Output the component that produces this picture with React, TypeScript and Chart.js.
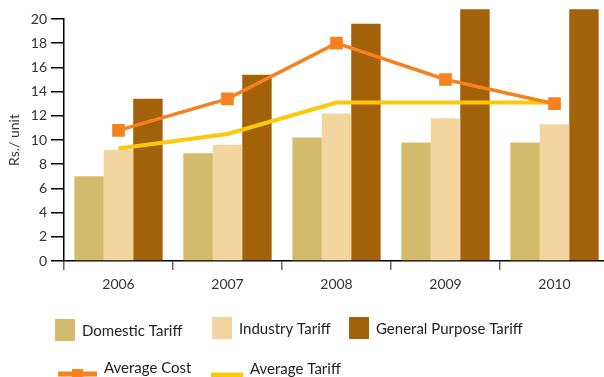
import React, { useEffect, useRef } from "react";
import { Chart, registerables } from "chart.js";
Chart.register(...registerables);

const years = ["2006", "2007", "2008", "2009", "2010"];
const domesticTariff = [7.0, 8.9, 10.2, 9.8, 9.8];
const industryTariff = [9.2, 9.6, 12.2, 11.8, 11.3];
const generalPurposeTariff = [13.4, 15.4, 19.6, 20.8, 20.8];
const averageCost = [10.8, 13.4, 18.0, 15.0, 13.0];
const averageTariff = [9.3, 10.5, 13.1, 13.1, 13.1];

const C_DOM = "#D4BB6C";
const C_IND = "#F2D59F";
const C_GEN = "#A3610A";
const C_COST = "#F5821F";
const C_TAR = "#FFC70A";
const FONT = "Lato, 'DejaVu Sans', sans-serif";

const legendPlugin = {
  id: "customLegend",
  afterDraw(chart: any) {
    const ctx = chart.ctx;
    ctx.save();
    ctx.font = `15px ${FONT}`;
    ctx.fillStyle = "#222";
    ctx.textBaseline = "middle";
    ctx.textAlign = "left";
    const items = [
      { label: "Domestic Tariff", color: C_DOM, x: 55, y: 319 },
      { label: "Industry Tariff", color: C_IND, x: 212, y: 317 },
      { label: "General Purpose Tariff", color: C_GEN, x: 349, y: 317 },
    ];
    for (const it of items) {
      ctx.fillStyle = it.color;
      ctx.fillRect(it.x, it.y, 20, 22);
      ctx.fillStyle = "#222";
      ctx.fillText(it.label, it.x + 27, it.y + 12);
    }
    // Average cost
    ctx.strokeStyle = C_COST;
    ctx.lineWidth = 5;
    ctx.beginPath();
    ctx.moveTo(58, 374);
    ctx.lineTo(97, 374);
    ctx.stroke();
    ctx.fillStyle = C_COST;
    ctx.fillRect(72, 369, 11, 10);
    ctx.fillStyle = "#222";
    ctx.fillText("Average Cost", 104, 368);
    // Average tariff
    ctx.strokeStyle = C_TAR;
    ctx.beginPath();
    ctx.moveTo(211, 375);
    ctx.lineTo(243, 375);
    ctx.stroke();
    ctx.fillStyle = "#222";
    ctx.fillText("Average Tariff", 250, 369);
    ctx.restore();
  },
};

export default function App() {
  const ref = useRef<HTMLCanvasElement>(null);
  useEffect(() => {
    if (!ref.current) return;
    const chart = new Chart(ref.current, {
      type: "bar",
      data: {
        labels: years,
        datasets: [
          {
            type: "line",
            label: "Average Cost",
            data: averageCost,
            borderColor: C_COST,
            backgroundColor: C_COST,
            borderWidth: 3.5,
            pointStyle: "rect",
            pointRadius: 6.5,
            pointHoverRadius: 6.5,
            order: 0,
          } as any,
          {
            type: "line",
            label: "Average Tariff",
            data: averageTariff,
            borderColor: C_TAR,
            backgroundColor: C_TAR,
            borderWidth: 4,
            pointRadius: 0,
            order: 1,
          } as any,
          {
            label: "Domestic Tariff",
            data: domesticTariff,
            backgroundColor: C_DOM,
            order: 2,
          },
          {
            label: "Industry Tariff",
            data: industryTariff,
            backgroundColor: C_IND,
            order: 2,
          },
          {
            label: "General Purpose Tariff",
            data: generalPurposeTariff,
            backgroundColor: C_GEN,
            order: 2,
            clip: { left: 0, right: 0, bottom: 0, top: 12 } as any,
          },
        ],
      },
      options: {
        responsive: false,
        animation: false,
        layout: { padding: { top: 19, left: 0, right: 11, bottom: 86 } },
        datasets: { bar: { categoryPercentage: 0.81, barPercentage: 1.0 } },
        plugins: { legend: { display: false }, tooltip: { enabled: false } },
        scales: {
          x: {
            grid: {
              offset: true,
              drawOnChartArea: false,
              drawTicks: true,
              tickLength: 9,
              color: "#666",
              lineWidth: 1.5,
            },
            border: { display: true, color: "#000", width: 1.5 },
            ticks: { color: "#333", font: { family: FONT, size: 14 }, padding: 6 },
            afterFit(scale: any) {
              scale.height = 30;
            },
          },
          y: {
            min: 0,
            max: 20,
            ticks: { stepSize: 2, color: "#333", font: { family: FONT, size: 14 }, padding: 4 },
            grid: {
              drawOnChartArea: false,
              drawTicks: true,
              tickLength: 13,
              color: "#000",
              lineWidth: 1.5,
            },
            border: { display: true, color: "#000", width: 1.5 },
            title: {
              display: true,
              text: "Rs./ unit",
              color: "#333",
              font: { family: FONT, size: 14 },
              padding: { top: 6, bottom: 0 },
            },
            afterFit(scale: any) {
              scale.width = 64;
            },
          },
        },
      },
      plugins: [legendPlugin],
    });
    return () => chart.destroy();
  }, []);
  return (
    <div
      style={{
        position: "fixed",
        left: 0,
        top: 0,
        width: 604,
        height: 377,
        overflow: "hidden",
        background: "#fff",
      }}
    >
      <canvas ref={ref} width={620} height={377} />
    </div>
  );
}
